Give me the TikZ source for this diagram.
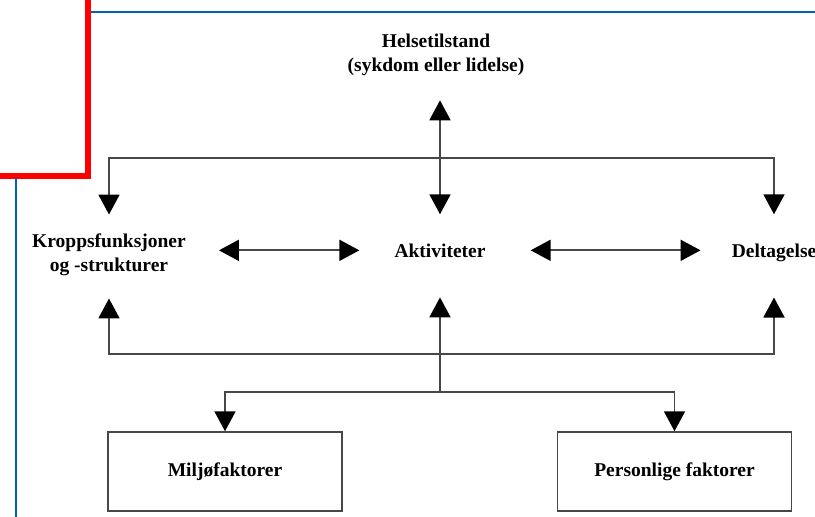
\documentclass[tikz,border=0pt]{standalone}
\usepackage{fontspec}
\setmainfont{Liberation Serif}
\usetikzlibrary{arrows.meta,positioning}
\definecolor{frameblue}{RGB}{0,98,178}

\begin{document}
\begin{tikzpicture}[
x=1pt,y=-1pt,
lbl/.style={font=\bfseries\fontsize{19.5}{24.5}\selectfont,align=center,inner sep=0pt},
link/.style={draw=black!72,line width=1.9pt},
arr/.style={link,-{Triangle[length=20pt,width=21pt,color=black]}},
dbl/.style={link,{Triangle[length=20pt,width=21pt,color=black]}-{Triangle[length=20pt,width=21pt,color=black]}}
]

  \tikzstyle{factorbox}=[lbl,draw=black!72,line width=1.5pt,minimum width=234pt,minimum height=79pt]

  \useasboundingbox (0,0) rectangle (815,517);
  \clip (0,0) rectangle (815,517);

  % screen frame
  \draw [red,line width=6pt] (-10,-10) rectangle (88,175.5);
  \draw [frameblue,line width=2pt] (91,12) -- (815,12);
  \draw [frameblue,line width=2pt] (16,178) -- (16,517);

  \node (helse) [lbl] at (436,55) {Helsetilstand\\(sykdom eller lidelse)};
  \node (kropp) [lbl] at (109,255) {Kroppsfunksjoner\\og -strukturer};
  \node (akt) [lbl,anchor=base] at (440,257) {Aktiviteter};
  \node (delt) [lbl,anchor=base] at (774,257) {Deltagelse};

  \node (milj) [factorbox] at (225,471.5) {Miljøfaktorer};
  \node (pers) [factorbox] at (674.5,471.5) {Personlige faktorer};

  \coordinate (top) at (440,158);
  \coordinate (mid) at (440,354);
  \coordinate (low) at (440,392);

  % helsetilstand
  \draw [dbl,shorten <=29pt,shorten >=24pt] (akt.north) -- (akt.north |- helse.south);
  \draw [link] (top -| kropp) -- (top -| delt);
  \draw [arr,shorten >=19pt] (top) -| (kropp);
  \draw [arr,shorten >=29pt] (top) -| (delt);

  % horisontalt
  \draw [dbl,shorten <=33pt,shorten >=35pt] (kropp.east |- akt) -- (akt.west);
  \draw [dbl,shorten <=45pt,shorten >=31pt] (akt.east) -- (delt.west |- akt);

  % kontekstuelle faktorer
  \draw [link] (mid -| kropp) -- (mid -| delt);
  \draw [arr,shorten >=22pt] (mid) -| (kropp);
  \draw [arr,shorten >=36pt] (mid) -| (delt);
  \draw [arr,shorten >=40pt] (low) -- (akt);
  \draw [arr] (low) -| (milj);
  \draw [arr] (low) -| (pers);

\end{tikzpicture}
\end{document}
